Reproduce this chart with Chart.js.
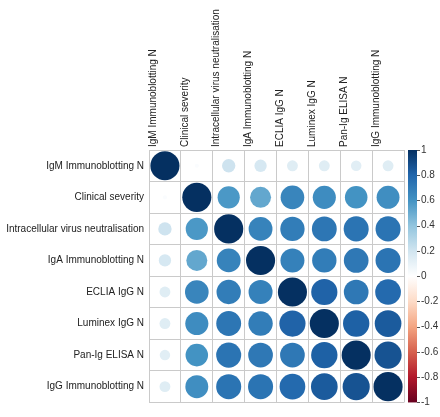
<!DOCTYPE html>
<html>
<head>
<meta charset="utf-8">
<script src="https://cdn.jsdelivr.net/npm/chart.js@4/dist/chart.umd.min.js"></script>
<style>
  html, body { margin: 0; padding: 0; background: #ffffff; }
  #wrap { width: 440px; height: 417px; }
</style>
</head>
<body>
<div id="wrap"><canvas id="c" width="440" height="417"></canvas></div>
<script>
// ---- Data ----
const variables = [
  "IgM Immunoblotting N",
  "Clinical severity",
  "Intracellular virus neutralisation",
  "IgA Immunoblotting N",
  "ECLIA IgG N",
  "Luminex IgG N",
  "Pan-Ig ELISA N",
  "IgG Immunoblotting N"
];
// correlation matrix rows, same order as variables
const rowIgM      = [1.00, 0.02, 0.21, 0.18, 0.14, 0.14, 0.13, 0.14];
const rowClinical = [0.02, 1.00, 0.58, 0.52, 0.66, 0.63, 0.60, 0.62];
const rowIntra    = [0.21, 0.58, 1.00, 0.67, 0.70, 0.73, 0.74, 0.74];
const rowIgA      = [0.18, 0.52, 0.67, 1.00, 0.68, 0.70, 0.72, 0.74];
const rowECLIA    = [0.14, 0.66, 0.70, 0.68, 1.00, 0.81, 0.72, 0.78];
const rowLuminex  = [0.14, 0.63, 0.73, 0.70, 0.81, 1.00, 0.82, 0.84];
const rowPanIg    = [0.13, 0.60, 0.74, 0.72, 0.72, 0.82, 1.00, 0.87];
const rowIgG      = [0.14, 0.62, 0.74, 0.74, 0.78, 0.84, 0.87, 1.00];
const corrRows = [rowIgM, rowClinical, rowIntra, rowIgA, rowECLIA, rowLuminex, rowPanIg, rowIgG];
const colorbarMin = -1;
const colorbarMax = 1;
const colorbarStep = 0.2;

// ---- Palette (RdBu, corrplot style) ----
const palette = ["#67001F","#B2182B","#D6604D","#F4A582","#FDDBC7","#FFFFFF","#D1E5F0","#92C5DE","#4393C3","#2166AC","#053061"];
function hexToRgb(h){ return [parseInt(h.substr(1,2),16), parseInt(h.substr(3,2),16), parseInt(h.substr(5,2),16)]; }
function colorFor(v){
  const t = (Math.max(-1, Math.min(1, v)) + 1) / 2 * (palette.length - 1);
  const i = Math.min(palette.length - 2, Math.floor(t));
  const f = t - i;
  const a = hexToRgb(palette[i]), b = hexToRgb(palette[i+1]);
  const c = a.map((x, k) => Math.round(x + (b[k] - x) * f));
  return `rgb(${c[0]},${c[1]},${c[2]})`;
}

// ---- Build points ----
const points = [];
corrRows.forEach((row, ri) => {
  row.forEach((v, ci) => {
    points.push({ x: variables[ci], y: variables[ri], v: v });
  });
});

const FONT = { family: "'Liberation Sans', Arial, sans-serif", size: 10 };
const GRID = '#cacaca';

const colorbarPlugin = {
  id: 'colorbar',
  afterDraw(chart) {
    const s = chart.scales.cb;
    const ctx = chart.ctx;
    const top = s.getPixelForValue(colorbarMax);
    const bottom = s.getPixelForValue(colorbarMin);
    const x0 = s.left + 4, w = 9;
    const g = ctx.createLinearGradient(0, bottom, 0, top);
    palette.forEach((c, i) => g.addColorStop(i / (palette.length - 1), c));
    ctx.save();
    ctx.fillStyle = g;
    ctx.fillRect(x0, top, w, bottom - top);
    ctx.strokeStyle = '#555';
    ctx.lineWidth = 1;
    s.ticks.forEach(t => {
      const y = Math.round(s.getPixelForValue(t.value)) + 0.5;
      ctx.beginPath();
      ctx.moveTo(x0 + w, y);
      ctx.lineTo(x0 + w + 3, y);
      ctx.stroke();
    });
    ctx.restore();
  }
};

new Chart(document.getElementById('c'), {
  type: 'bubble',
  data: {
    datasets: [{
      data: points,
      clip: false,
      borderWidth: 0,
      radius: (ctx) => {
        const ca = ctx.chart.chartArea;
        const cell = ca ? (ca.right - ca.left) / variables.length : 32;
        const v = ctx.raw ? ctx.raw.v : 0;
        return Math.sqrt(Math.abs(v)) * cell / 2 * 0.91;
      },
      hoverRadius: 0,
      backgroundColor: (ctx) => colorFor(ctx.raw ? ctx.raw.v : 0),
      borderColor: 'rgba(0,0,0,0)'
    }]
  },
  options: {
    responsive: false,
    animation: false,
    events: [],
    layout: { padding: { top: 0, left: 0, right: 0, bottom: 12 } },
    plugins: { legend: { display: false }, tooltip: { enabled: false } },
    scales: {
      x: {
        type: 'category',
        labels: variables,
        position: 'top',
        offset: true,
        grid: { offset: true, color: GRID, drawTicks: false, lineWidth: 1 },
        border: { color: GRID },
        ticks: { autoSkip: false, minRotation: 90, maxRotation: 90, padding: 3, color: '#222', font: FONT },
        afterFit: (s) => { s.height = 150; s.paddingLeft = 0; s.paddingRight = 0; }
      },
      y: {
        type: 'category',
        labels: variables,
        position: 'left',
        offset: true,
        grid: { offset: true, color: GRID, drawTicks: false, lineWidth: 1 },
        border: { color: GRID },
        ticks: { autoSkip: false, padding: 5, color: '#222', font: FONT },
        afterFit: (s) => { s.width = 149; s.paddingTop = 0; s.paddingBottom = 0; }
      },
      cb: {
        type: 'linear',
        position: 'right',
        min: colorbarMin,
        max: colorbarMax,
        grid: { drawOnChartArea: false, drawTicks: false },
        border: { display: false },
        ticks: {
          stepSize: colorbarStep, padding: 17, color: '#333', font: FONT,
          callback: (v) => String(Number(Number(v).toFixed(1)))
        },
        afterFit: (s) => { s.width = 36; s.paddingTop = 0; s.paddingBottom = 0; }
      }
    }
  },
  plugins: [colorbarPlugin]
});
</script>
</body>
</html>
